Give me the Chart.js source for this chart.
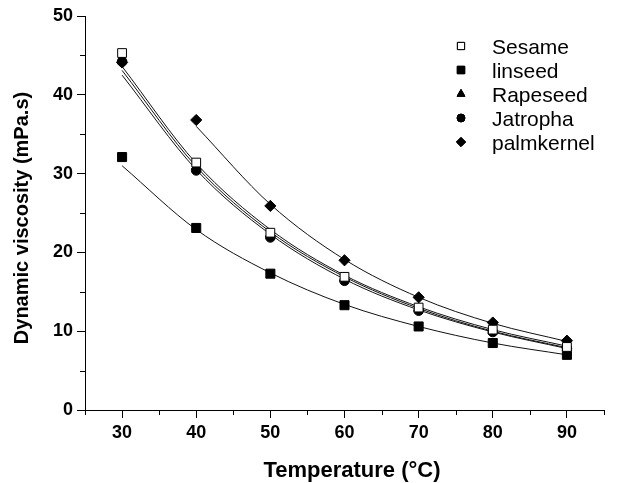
<!DOCTYPE html>
<html>
<head>
<meta charset="utf-8">
<script src="https://cdn.jsdelivr.net/npm/chart.js@4/dist/chart.umd.min.js"></script>
<style>
  html, body { margin: 0; padding: 0; background: #fff; }
  #wrap { width: 619px; height: 483px; }
</style>
</head>
<body>
<div id="wrap"><canvas id="viscChart" width="619" height="483"></canvas></div>
<script>
// === Data ===
const temps = [30, 40, 50, 60, 70, 80, 90];

// measured points
const sesame     = [45.3, 31.4, 22.5, 16.9, 13.0, 10.2, 8.0];
const linseed    = [32.1, 23.1, 17.3, 13.3, 10.6, 8.5, 7.0];
const rapeseed   = [44.6, 30.9, 22.3, 16.7, 12.9, 10.0, 7.9];
const jatropha   = [44.2, 30.4, 21.9, 16.4, 12.6, 9.9, 7.8];
const palmkernel = [44.1, 36.8, 25.9, 19.0, 14.3, 11.1, 8.8];

// fitted curves (no markers)
const sesameFit     = [43.6, 31.3, 22.9, 17.1, 13.1, 10.2, 8.1];
const linseedFit    = [31.0, 22.9, 17.4, 13.4, 10.6, 8.5, 7.0];
const rapeseedFit   = [43.1, 30.9, 22.6, 16.9, 12.9, 10.0, 7.9];
const jatrophaFit   = [42.5, 30.5, 22.3, 16.6, 12.7, 9.9, 7.8];
const palmkernelFit = [null, 36.0, 26.1, 19.1, 14.3, 11.0, 8.7];

const seriesNames = ["Sesame", "linseed", "Rapeseed", "Jatropha", "palmkernel"];
const yTicks = [0, 10, 20, 30, 40, 50];
const xTicks = [30, 40, 50, 60, 70, 80, 90];
const xTitle = "Temperature (°C)";
const yTitle = "Dynamic viscosity (mPa.s)";

const FONT = "'Liberation Sans', Arial, sans-serif";

function pts(vals) {
  return temps.map((t, i) => ({ x: t, y: vals[i] })).filter(p => p.y !== null);
}

function markerSet(label, vals, style, radius, fill) {
  return {
    label: label,
    data: pts(vals),
    showLine: false,
    pointStyle: style,
    pointRadius: radius,
    pointHoverRadius: radius,
    pointBackgroundColor: fill,
    pointBorderColor: "#000",
    pointBorderWidth: 1,
    order: 1
  };
}

function fitSet(vals) {
  return {
    label: "fit",
    data: pts(vals),
    showLine: true,
    borderColor: "#111",
    borderWidth: 1,
    pointRadius: 0,
    pointHoverRadius: 0,
    tension: 0.35,
    cubicInterpolationMode: "monotone",
    fill: false,
    order: 2
  };
}

const markerSets = [
  markerSet(seriesNames[0], sesame, "rect", 6.2, "#fff"),
  markerSet(seriesNames[1], linseed, "rect", 6.4, "#000"),
  markerSet(seriesNames[2], rapeseed, "triangle", 5.5, "#000"),
  markerSet(seriesNames[3], jatropha, "circle", 4.8, "#000"),
  markerSet(seriesNames[4], palmkernel, "rectRot", 5.6, "#000")
];

const fitSets = [sesameFit, linseedFit, rapeseedFit, jatrophaFit, palmkernelFit].map(fitSet);

// minor ticks every 5 units, drawn outward from the axis lines
const minorTicks = {
  id: "minorTicks",
  afterDraw(chart) {
    const ctx = chart.ctx;
    const xs = chart.scales.x, ys = chart.scales.y;
    ctx.save();
    ctx.strokeStyle = "#000";
    ctx.lineWidth = 1;
    ctx.beginPath();
    for (let v = 25; v <= 95; v += 10) {
      const px = Math.round(xs.getPixelForValue(v)) + 0.5;
      ctx.moveTo(px, ys.bottom);
      ctx.lineTo(px, ys.bottom + 5);
    }
    for (let v = 5; v <= 45; v += 10) {
      const py = Math.round(ys.getPixelForValue(v)) + 0.5;
      ctx.moveTo(xs.left, py);
      ctx.lineTo(xs.left - 5, py);
    }
    ctx.stroke();
    ctx.restore();
  }
};

// axis titles, placed like the original figure
const axisTitles = {
  id: "axisTitles",
  afterDraw(chart) {
    const ctx = chart.ctx;
    ctx.save();
    ctx.fillStyle = "#000";
    ctx.textAlign = "center";
    ctx.textBaseline = "alphabetic";
    ctx.font = "bold 22px " + FONT;
    ctx.fillText(xTitle, 352, 477);
    ctx.translate(28, 218);
    ctx.rotate(-Math.PI / 2);
    ctx.font = "bold 20px " + FONT;
    ctx.fillText(yTitle, 0, 0);
    ctx.restore();
  }
};

// legend floating in the top right of the plot
const floatLegend = {
  id: "floatLegend",
  afterDraw(chart) {
    const ctx = chart.ctx;
    const x0 = 461, y0 = 46, step = 24;
    ctx.save();
    ctx.font = "21px " + FONT;
    ctx.textBaseline = "alphabetic";
    markerSets.forEach((ds, i) => {
      const y = y0 + i * step;
      Chart.helpers.drawPoint(ctx, {
        pointStyle: ds.pointStyle,
        radius: ds.pointRadius * 0.82,
        borderWidth: 1,
        rotation: 0
      }, x0, y);
      ctx.fillStyle = ds.pointBackgroundColor;
      ctx.strokeStyle = "#000";
      ctx.lineWidth = 1;
      ctx.fill();
      ctx.stroke();
      ctx.fillStyle = "#000";
      ctx.fillText(ds.label, 492, y + 7.5);
    });
    ctx.restore();
  }
};

new Chart(document.getElementById("viscChart").getContext("2d"), {
  type: "scatter",
  data: { datasets: markerSets.concat(fitSets) },
  options: {
    responsive: false,
    animation: false,
    layout: { padding: { top: 16, right: 15, left: 0, bottom: 0 } },
    plugins: {
      legend: { display: false },
      tooltip: { enabled: false }
    },
    scales: {
      x: {
        type: "linear",
        min: 25,
        max: 95,
        afterBuildTicks: (scale) => { scale.ticks = xTicks.map(v => ({ value: v })); },
        afterFit: (scale) => { scale.height = 73; },
        grid: { drawOnChartArea: false, drawTicks: true, tickLength: 8, color: "#000" },
        border: { display: true, color: "#000", width: 1 },
        ticks: {
          color: "#000",
          padding: 4,
          maxRotation: 0,
          font: { family: FONT, size: 18, weight: "bold" }
        },
        title: { display: false }
      },
      y: {
        type: "linear",
        min: 0,
        max: 50,
        afterBuildTicks: (scale) => { scale.ticks = yTicks.map(v => ({ value: v })); },
        afterFit: (scale) => { scale.width = 85; },
        grid: { drawOnChartArea: false, drawTicks: true, tickLength: 8, color: "#000" },
        border: { display: true, color: "#000", width: 1 },
        ticks: {
          color: "#000",
          padding: 4,
          font: { family: FONT, size: 18, weight: "bold" }
        },
        title: { display: false }
      }
    }
  },
  plugins: [minorTicks, axisTitles, floatLegend]
});
</script>
</body>
</html>
